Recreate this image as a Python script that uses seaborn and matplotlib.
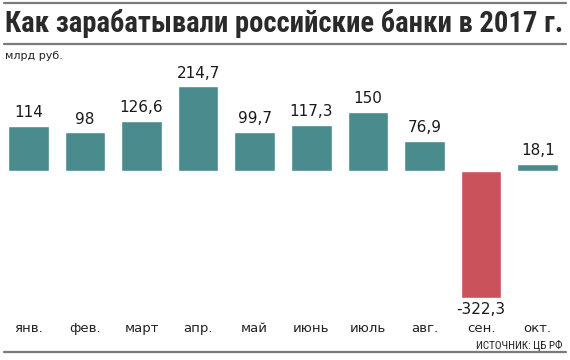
#!/usr/bin/env python3
# Прибыль российских банков по месяцам 2017 г.

import matplotlib
matplotlib.use('Agg')
import matplotlib.pyplot as plt
from matplotlib import font_manager
from matplotlib.lines import Line2D
import pandas as pd
import seaborn as sns

# Data =========================================================================

months = ['янв.', 'фев.', 'март', 'апр.', 'май', 'июнь', 'июль', 'авг.', 'сен.', 'окт.']
profit = [114, 98, 126.6, 214.7, 99.7, 117.3, 150, 76.9, -322.3, 18.1]
value_labels = ['114', '98', '126,6', '214,7', '99,7', '117,3', '150', '76,9', '-322,3', '18,1']

TEAL = '#4a8b8d'
RED = '#c9525b'
GRAY = '#7a7a7a'


def narrow_family():
    names = {f.name for f in font_manager.fontManager.ttflist}
    for n in ('Liberation Sans Narrow', 'Roboto Condensed', 'DejaVu Sans'):
        if n in names:
            return n
    return 'DejaVu Sans'


def main():
    sns.set_theme(style='white')
    plt.rcParams['font.family'] = ['DejaVu Sans']
    narrow = narrow_family()

    df = pd.DataFrame({
        'month': months,
        'profit': profit,
        'sign': ['neg' if v < 0 else 'pos' for v in profit],
    })

    fig = plt.figure(figsize=(5.7, 3.6), dpi=100)
    W, H = 570, 360
    # axes: x 0..566 px, y 70..300 px from top
    ax = fig.add_axes([0 / W, 1 - 300 / H, 566 / W, 230 / H])

    sns.barplot(
        data=df, x='month', y='profit', hue='sign',
        palette={'pos': TEAL, 'neg': RED}, legend=False,
        width=0.72, saturation=1, ax=ax,
    )
    ax.set_ylim(-326.6, 255.7)
    ax.set_xlim(-0.5, 9.5)
    ax.set_xlabel('')
    ax.set_ylabel('')
    ax.set_yticks([])
    for s in ax.spines.values():
        s.set_visible(False)
    ax.tick_params(axis='x', length=0, pad=16, labelsize=9.5, colors='#222222')

    for i, (v, lab) in enumerate(zip(profit, value_labels)):
        if v >= 0:
            ax.annotate(lab, (i, v), xytext=(0, 4), textcoords='offset points',
                        ha='center', va='bottom', fontsize=11, color='#1a1a1a')
        else:
            ax.annotate(lab, (i, v), xytext=(0, -3), textcoords='offset points',
                        ha='center', va='top', fontsize=11, color='#1a1a1a')

    title = fig.text(5 / W, 1 - 24 / H, 'Как зарабатывали российские банки в 2017 г.',
                     ha='left', va='center', fontsize=20, fontweight='bold',
                     family=narrow, color='#2a2a2a')
    # fit the title into the width between the rules
    renderer = fig.canvas.get_renderer()
    w = title.get_window_extent(renderer).width
    title.set_fontsize(20 * 556 / w)

    fig.text(5 / W, 1 - 56 / H, 'млрд руб.', ha='left', va='center',
             fontsize=8, color='#222222')
    fig.text(563 / W, 1 - 345 / H, 'ИСТОЧНИК: ЦБ РФ', ha='right', va='center',
             fontsize=8, family=narrow, color='#222222')

    for y in (3, 44, 352):
        fig.add_artist(Line2D([4 / W, 566 / W], [1 - y / H, 1 - y / H],
                              color=GRAY, linewidth=1.6, transform=fig.transFigure))

    fig.savefig('out.png', dpi=100)


if __name__ == '__main__':
    main()
